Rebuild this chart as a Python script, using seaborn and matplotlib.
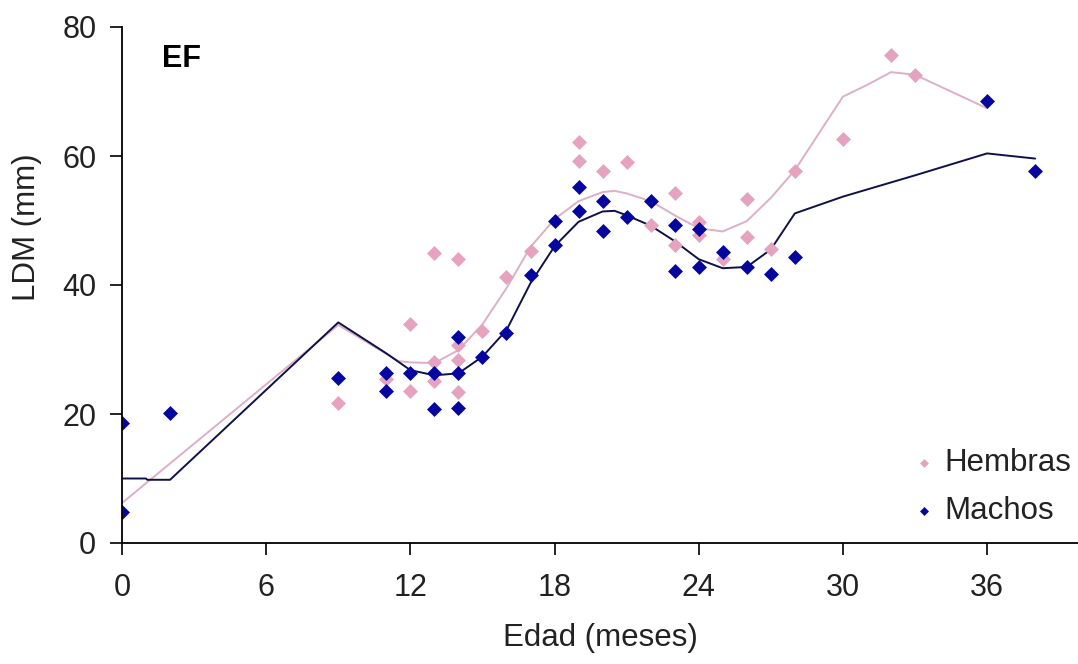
import matplotlib
matplotlib.use("Agg")
import matplotlib.pyplot as plt
import seaborn as sns
import pandas as pd

# ---- data ----
hembras_x = [9, 11, 12, 12, 13, 13, 13, 14, 14, 14, 14, 15, 16, 17, 19, 19, 20, 21,
             22, 23, 23, 24, 24, 25, 26, 26, 27, 28, 30, 32, 33]
hembras_y = [21.7, 25.5, 33.9, 23.6, 45.0, 28.1, 25.1, 44.0, 30.7, 28.4, 23.4, 32.9,
             41.2, 45.3, 62.1, 59.2, 57.7, 59.1, 49.3, 54.3, 46.2, 49.8, 47.8, 44.1,
             53.3, 47.4, 45.6, 57.7, 62.7, 75.7, 72.6]

machos_x = [0, 0, 2, 9, 11, 11, 12, 13, 13, 14, 14, 14, 15, 16, 17, 18, 18, 19, 19,
            20, 20, 21, 22, 23, 23, 24, 24, 25, 26, 27, 28, 36, 38]
machos_y = [18.6, 4.8, 20.1, 25.6, 26.3, 23.6, 26.3, 26.3, 20.8, 31.9, 26.3, 21.0,
            28.9, 32.6, 41.5, 50.0, 46.2, 55.2, 51.5, 53.0, 48.4, 50.6, 53.0, 49.3,
            42.2, 48.7, 42.8, 45.1, 42.8, 41.7, 44.4, 68.6, 57.7]

# trend lines
hembras_line_x = [0, 9, 11.5, 12, 13, 14, 15, 16, 17, 18, 19, 20, 20.5, 21, 22, 23,
                  24, 25, 26, 27, 28, 29, 30, 31, 32, 33, 36]
hembras_line_y = [6.2, 33.8, 28.2, 28.0, 27.9, 29.9, 33.9, 39.5, 45.9, 50.2, 53.0,
                  54.4, 54.6, 54.2, 53.0, 50.8, 48.8, 48.3, 49.9, 53.5, 57.8, 63.5,
                  69.2, 71.0, 73.0, 72.6, 67.4]

machos_line_x = [0, 1, 1.05, 2, 9, 10, 11, 12, 13, 14, 15, 16, 17, 18, 19, 20, 20.5,
                 21, 22, 23, 24, 25, 26, 27, 28, 30, 33, 36, 37, 38]
machos_line_y = [10.0, 10.0, 9.8, 9.8, 34.2, 31.8, 29.4, 26.8, 26.0, 26.3, 28.9, 33.0,
                 40.3, 46.0, 49.8, 51.4, 51.5, 50.8, 49.2, 46.8, 44.0, 42.6, 42.8,
                 45.5, 51.1, 53.7, 57.0, 60.4, 60.0, 59.6]

x_ticks = [0, 6, 12, 18, 24, 30, 36]
y_ticks = [0, 20, 40, 60, 80]

PINK = "#e6a3bf"
PINK_LINE = "#dcb0c6"
BLUE = "#0505a0"
BLUE_LINE = "#10104a"

sns.set_style("ticks")
plt.rcParams["font.family"] = ["Liberation Sans", "DejaVu Sans"]

fig = plt.figure(figsize=(10.78, 6.64), dpi=100)
ax = fig.add_axes([122 / 1078, 1 - 543 / 664, 1 - 122 / 1078, (543 - 27) / 664])

df_hl = pd.DataFrame({"x": hembras_line_x, "y": hembras_line_y})
df_ml = pd.DataFrame({"x": machos_line_x, "y": machos_line_y})
df_h = pd.DataFrame({"x": hembras_x, "y": hembras_y})
df_m = pd.DataFrame({"x": machos_x, "y": machos_y})

sns.lineplot(data=df_hl, x="x", y="y", ax=ax, color=PINK_LINE, lw=1.4,
             sort=False, estimator=None, zorder=2)
sns.lineplot(data=df_ml, x="x", y="y", ax=ax, color=BLUE_LINE, lw=1.4,
             sort=False, estimator=None, zorder=2)
sns.scatterplot(data=df_h, x="x", y="y", ax=ax, marker="D", s=58, color=PINK,
                edgecolor=PINK, linewidth=0, label="Hembras", zorder=3)
sns.scatterplot(data=df_m, x="x", y="y", ax=ax, marker="D", s=58, color=BLUE,
                edgecolor=BLUE, linewidth=0, label="Machos", zorder=4)

ax.set_xlim(0, 956 / 24.03)
ax.set_ylim(0, 80)
ax.set_xticks(x_ticks)
ax.set_yticks(y_ticks)
ax.tick_params(axis="both", direction="out", length=8.5, width=1.2,
               labelsize=22, colors="black", labelcolor="#222222", pad=10)
ax.tick_params(axis="x", pad=13)
for side in ["top", "right"]:
    ax.spines[side].set_visible(False)
for side in ["left", "bottom"]:
    ax.spines[side].set_linewidth(1.3)
    ax.spines[side].set_color("black")
ax.spines["left"].set_zorder(5)

ax.set_xlabel("Edad (meses)", fontsize=22.5, color="#222222")
ax.set_ylabel("LDM (mm)", fontsize=22.5, color="#222222")
ax.xaxis.set_label_coords(0.5, -0.155)
ax.yaxis.set_label_coords(-0.0837, 0.612)

ax.text(1.66, 73.8, "EF", fontsize=22, fontweight="bold", color="black",
        ha="left", va="baseline")

leg = ax.legend(loc="center", bbox_to_anchor=(993 / 1078, 1 - 487 / 664),
                bbox_transform=fig.transFigure, frameon=False, fontsize=22.5,
                handlelength=0.6, handletextpad=0.35, labelspacing=0.58,
                markerscale=0.6, borderpad=0.2)
for t in leg.get_texts():
    t.set_color("#222222")

fig.savefig("out.png", dpi=100)
